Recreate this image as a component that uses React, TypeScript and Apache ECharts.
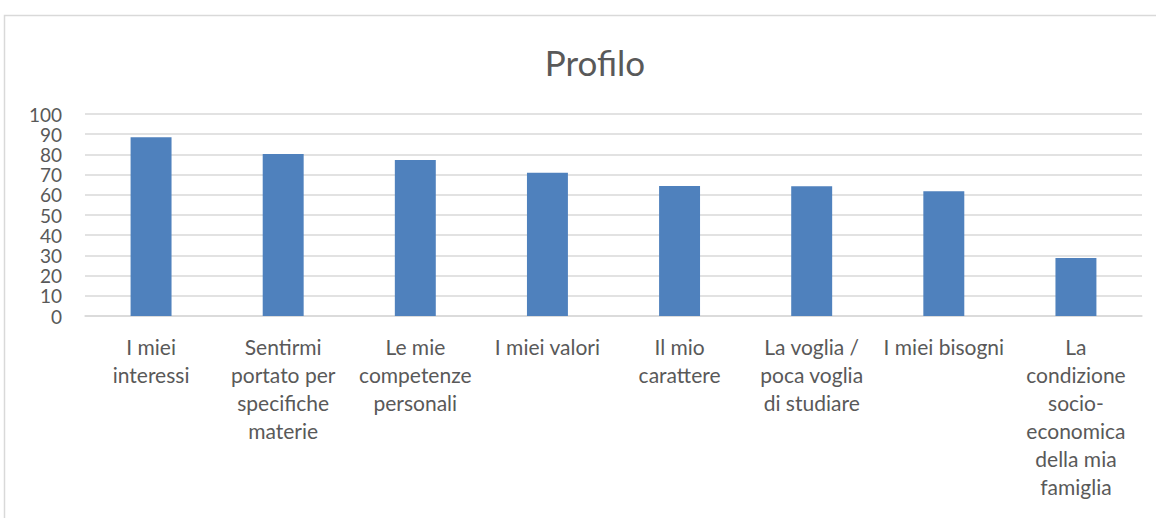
import React, { useEffect, useRef } from "react";
import * as echarts from "echarts";

const title = "Profilo";
const categories = [
  "I miei\ninteressi",
  "Sentirmi\nportato per\nspecifiche\nmaterie",
  "Le mie\ncompetenze\npersonali",
  "I miei valori",
  "Il mio\ncarattere",
  "La voglia /\npoca voglia\ndi studiare",
  "I miei bisogni",
  "La\ncondizione\nsocio-\neconomica\ndella mia\nfamiglia",
];
const values = [88.5, 80.2, 77.2, 70.9, 64.4, 64.2, 61.7, 28.7];
const yMin = 0;
const yMax = 100;
const yStep = 10;

const FONT = "Lato, 'Open Sans', sans-serif";
const TEXT = "#595959";

export default function App() {
  const ref = useRef<HTMLDivElement>(null);
  useEffect(() => {
    if (!ref.current) return;
    const chart = echarts.init(ref.current, null, { renderer: "svg" });
    chart.setOption({
      animation: false,
      backgroundColor: "#ffffff",
      title: {
        text: title,
        left: 590,
        top: 39,
        textAlign: "center",
        textStyle: { fontFamily: FONT, fontSize: 35, fontWeight: "normal", color: TEXT },
      },
      graphic: [
        {
          type: "rect",
          shape: { x: 4.5, y: 15.5, width: 1300, height: 700 },
          style: { fill: "none", stroke: "#d9d9d9", lineWidth: 1.5 },
          silent: true,
        },
      ],
      grid: { left: 85, right: 14, top: 114, bottom: 202, containLabel: false },
      xAxis: {
        type: "category",
        data: categories,
        axisLine: { show: true, lineStyle: { color: "#d9d9d9", width: 1.5 } },
        axisTick: { show: false },
        axisLabel: {
          interval: 0,
          margin: 16,
          fontFamily: FONT,
          fontSize: 21,
          lineHeight: 28,
          color: TEXT,
          align: "center",
          verticalAlign: "top",
        },
      },
      yAxis: {
        type: "value",
        min: yMin,
        max: yMax,
        interval: yStep,
        axisLine: { show: false },
        axisTick: { show: false },
        splitLine: { lineStyle: { color: "#d9d9d9", width: 1.5 } },
        axisLabel: {
          fontFamily: FONT,
          fontSize: 19,
          lineHeight: 17,
          color: TEXT,
          margin: 23,
          showMinLabel: true,
          showMaxLabel: true,
          hideOverlap: false,
        },
      },
      series: [
        {
          type: "bar",
          data: values,
          barWidth: "31%",
          itemStyle: { color: "#4f81bd" },
        },
      ],
    });
    return () => chart.dispose();
  }, []);
  return (
    <div
      ref={ref}
      style={{ position: "fixed", left: 0, top: 0, width: 1156, height: 518 }}
    />
  );
}
